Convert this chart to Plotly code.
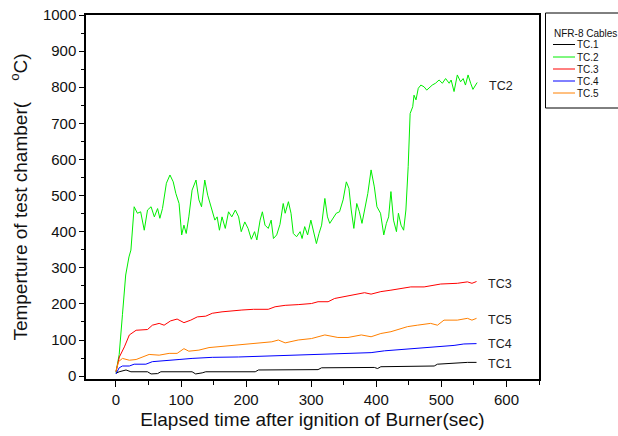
import plotly.graph_objects as go

# ---- data ----
tc1_t = [0, 5, 15.5, 23, 48.5, 54, 64, 69, 117, 122.5, 132.5, 138, 214, 219, 310.5, 316, 397, 402, 407, 489, 494, 509, 524.5, 540, 554]
tc1_v = [8, 12, 17, 12, 12, 6, 7, 12, 12, 6, 9, 12, 12, 17, 18, 23, 24, 21, 26, 28, 33, 35, 37, 38, 38]

tc2_t = [0, 5, 10, 15, 20, 23, 28, 33, 38, 43.5, 48.5, 54, 59, 64, 67.5, 71.5, 77.5, 83, 88, 92, 97, 101, 104.5, 108, 112,
         117, 123, 127.5, 131.5, 136.5, 141, 147, 152, 155.5, 159, 163, 168, 173, 178, 183.5, 188.5, 192.5, 198, 203, 208,
         213, 216.5, 221.5, 225, 229, 234, 238.5, 242, 247, 252, 257, 260, 265, 269, 272.5, 277.5, 283, 286, 290, 294.5,
         299.5, 304.5, 308, 312, 316, 321, 325, 328.5, 333.5, 338.5, 343.5, 349, 354, 358, 361.5, 365.5, 370, 374, 378, 383,
         387, 392, 397, 401, 406.5, 411.5, 415.5, 419, 422.5, 426.5, 431, 434, 438, 442, 445.5, 449, 452, 456, 458, 461,
         464.5, 468.5, 473.5, 477.5, 483, 486, 491, 496.5, 501.5, 506.5, 512, 515, 519.5, 524.5, 529.5, 533.5, 537, 541,
         545, 548.5, 555]
tc2_v = [10, 60, 170, 280, 330, 349, 469, 451, 455, 404, 460, 469, 441, 464, 437, 464, 534, 557, 538, 506, 478, 391, 418, 395, 441,
         515, 543, 488, 469, 543, 501, 464, 432, 441, 404, 441, 409, 455, 441, 460, 441, 400, 427, 409, 379,
         400, 377, 432, 455, 418, 409, 432, 381, 391, 420, 478, 451, 483, 451, 395, 386, 400, 381, 414, 391,
         432, 395, 367, 395, 418, 492, 441, 423, 437, 451, 455, 488, 538, 520, 460, 409, 478, 455, 423, 469,
         506, 571, 524, 469, 451, 391, 423, 441, 511, 432, 400, 451, 418, 404, 460, 580, 727, 746, 778, 765,
         797, 806, 801, 792, 801, 806, 811, 820, 811, 824, 811, 820, 788, 834, 815, 824, 806, 834,
         811, 794, 813]

tc3_t = [0, 5.3, 13, 20.6, 31, 48.5, 56, 66.4, 74, 84, 94, 104.5, 115, 125, 138, 148, 163, 178, 193.5, 211.5, 234, 244.5,
         260, 280, 300.5, 310.5, 326, 336, 351.5, 367, 382, 392, 407, 422.5, 443, 453, 473.5, 499, 524.5, 540, 547, 554]
tc3_v = [12, 53, 81, 114, 127, 129, 141, 146, 141, 153, 158, 148, 155, 164, 166, 174, 178, 181, 183, 185, 185, 192,
         196, 198, 201, 206, 206, 215, 220, 226, 231, 227, 234, 238, 243, 247, 247, 255, 257, 261, 257, 262]

tc4_t = [0, 5, 10, 20.6, 28, 46, 56, 76.5, 97, 117, 148, 188.5, 219, 270, 300.5, 331, 361.5, 392, 412.5, 443, 463, 494, 519.5, 534.5, 554]
tc4_v = [6, 23, 28, 28, 33, 33, 40, 42, 46, 49, 52, 53, 55, 57, 60, 61, 63, 65, 70, 74, 78, 81, 85, 89, 90]

tc5_t = [0, 4, 10, 20.6, 31, 41, 51, 66.4, 81.7, 94, 104.5, 112, 127.5, 143, 168, 183.5, 204, 224, 239.5, 249.5, 260, 280,
         300.5, 321, 341, 356.5, 377, 392, 407, 422.5, 448, 463, 483.5, 494, 504, 524.5, 540, 547, 554]
tc5_v = [14, 40, 49, 44, 46, 53, 60, 58, 63, 63, 76, 69, 72, 79, 83, 86, 90, 92, 95, 100, 92, 100,
         104, 114, 107, 107, 114, 109, 118, 123, 137, 141, 146, 141, 155, 155, 160, 155, 160]

names = ["TC.1", "TC.2", "TC.3", "TC.4", "TC.5"]
colors = ["#000000", "#00ee00", "#ff0000", "#0000ff", "#ff8000"]
times = [tc1_t, tc2_t, tc3_t, tc4_t, tc5_t]
values = [tc1_v, tc2_v, tc3_v, tc4_v, tc5_v]

end_labels = ["TC1", "TC2", "TC3", "TC4", "TC5"]
label_y = [33, 803, 255, 89, 155]

legend_title = "NFR-8 Cables"

x_ticks = [0, 100, 200, 300, 400, 500, 600]
y_ticks = [0, 100, 200, 300, 400, 500, 600, 700, 800, 900, 1000]

FONT = "Arial, Liberation Sans, sans-serif"
W, H = 618, 436
ML, MR, MT, MB = 86, 79, 15, 57
PW, PH = W - ML - MR, H - MT - MB


def px(x):
    return (x - ML) / PW


def py(y):
    return (H - MB - y) / PH


fig = go.Figure()
for name, t, v, c in zip(names, times, values, colors):
    fig.add_trace(go.Scatter(x=t, y=v, mode="lines", name=name,
                             line=dict(color=c, width=1), showlegend=False))

for lab, ly, t in zip(end_labels, label_y, times):
    fig.add_annotation(x=t[-1] + 15, y=ly, text=lab, showarrow=False,
                       xanchor="left", yanchor="middle",
                       font=dict(family=FONT, size=12.5, color="#222222"))

# ---- legend box (drawn as layout shapes/annotations); its right side runs off the page ----
box_l, box_r, box_t, box_b = 545.5, 630, 13, 108
for (xa, ya, xb, yb) in [(box_l, box_t, box_r, box_t), (box_l, box_b, box_r, box_b), (box_l, box_t, box_l, box_b)]:
    fig.add_shape(type="line", xref="paper", yref="paper",
                  x0=px(xa), x1=px(xb), y0=py(ya), y1=py(yb),
                  line=dict(color="black", width=1))
fig.add_annotation(xref="paper", yref="paper", x=px(552), y=py(33), text=legend_title,
                   showarrow=False, xanchor="left", yanchor="middle",
                   font=dict(family=FONT, size=10, color="#111111"))
item_y = [44.5, 57, 69, 81, 93]
for name, c, iy in zip(names, colors, item_y):
    fig.add_shape(type="line", xref="paper", yref="paper",
                  x0=px(553), x1=px(575), y0=py(iy), y1=py(iy),
                  line=dict(color=c, width=1))
    fig.add_annotation(xref="paper", yref="paper", x=px(575), y=py(iy), text=name,
                       showarrow=False, xanchor="left", yanchor="middle",
                       font=dict(family=FONT, size=10, color="#111111"))

xr = [-46, 650]
yr = [-8, 1000]

fig.update_layout(
    width=W, height=H,
    margin=dict(l=ML, r=MR, t=MT, b=MB, autoexpand=False),
    paper_bgcolor="white", plot_bgcolor="white",
    font=dict(family=FONT, color="#111111"),
    xaxis=dict(range=xr, tickvals=x_ticks, ticks="outside", ticklen=6, tickwidth=1,
               tickcolor="black", showline=True, linecolor="black", linewidth=1.5,
               mirror=True, showgrid=False, zeroline=False,
               minor=dict(dtick=50, tick0=0, ticks="outside", ticklen=4, tickcolor="black"),
               tickfont=dict(size=15),
               title=dict(text="Elapsed time after ignition of Burner(sec)",
                          font=dict(size=19), standoff=6)),
    yaxis=dict(range=yr, tickvals=y_ticks, ticks="outside", ticklen=5, tickwidth=1,
               tickcolor="black", showline=True, linecolor="black", linewidth=1.5,
               mirror=True, showgrid=False, zeroline=False,
               minor=dict(dtick=50, tick0=0, ticks="outside", ticklen=3, tickcolor="black"),
               tickfont=dict(size=15),
               title=dict(text="Temperture of test chamber(\u00a0\u00a0\u00a0\u00a0<sup>o</sup>C)",
                          font=dict(size=19), standoff=10)),
    xaxis2=dict(range=xr, overlaying="x", side="top", anchor="y", tickvals=x_ticks,
                ticks="inside", ticklen=6, tickcolor="black", showticklabels=False,
                showgrid=False, zeroline=False, showline=False,
                minor=dict(dtick=50, tick0=0, ticks="inside", ticklen=4, tickcolor="black")),
    yaxis2=dict(range=yr, overlaying="y", side="right", anchor="x", tickvals=y_ticks,
                ticks="inside", ticklen=5, tickcolor="black", showticklabels=False,
                showgrid=False, zeroline=False, showline=False,
                minor=dict(dtick=50, tick0=0, ticks="inside", ticklen=4, tickcolor="black")),
    showlegend=False,
)

fig.write_html("out.html", config={"displayModeBar": False},
               post_script="document.body.style.margin='0';document.body.style.padding='0';")
